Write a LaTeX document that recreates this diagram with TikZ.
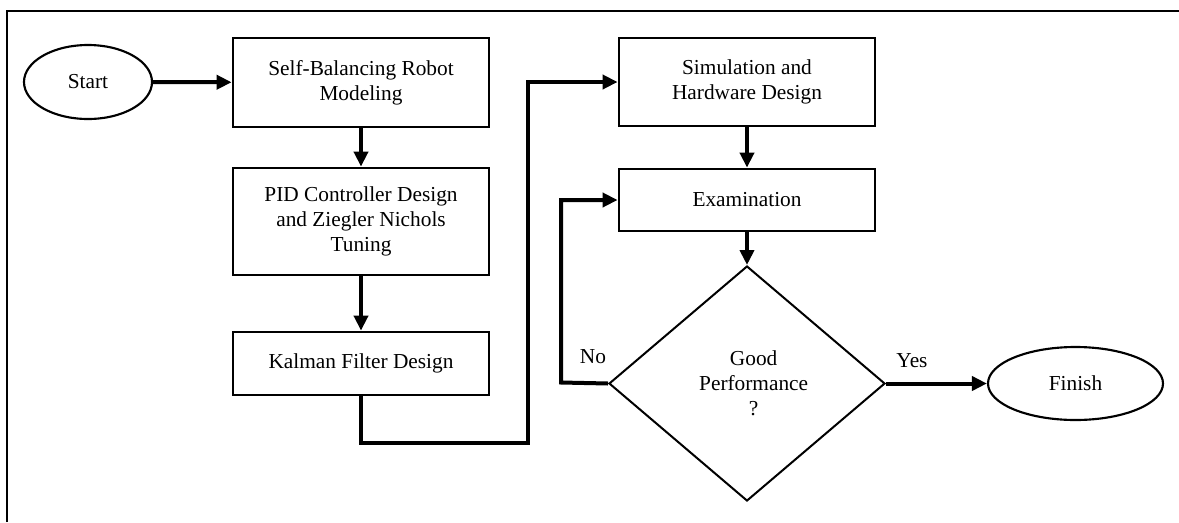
\documentclass[tikz,border=0pt]{standalone}
\usepackage{fontspec}
\setmainfont{Liberation Serif}
\usetikzlibrary{arrows.meta,shapes.geometric}

\tikzset{
  txt/.style={font=\fontsize{16}{18.75}\selectfont, align=center, text=black},
  procbox/.style={txt, draw, line width=2.1pt, inner sep=0pt,
    minimum width=192pt},
  term/.style={txt, draw, ellipse, line width=1.6pt, inner sep=0pt},
  decision/.style={txt, draw, diamond, line width=1.5pt, inner sep=0pt,
    minimum width=207pt, minimum height=176.25pt},
  flow/.style={line width=3pt, -{Triangle[length=11.25pt,width=10.5pt]}},
  plain/.style={line width=3pt},
  lbl/.style={txt}
}

\begin{document}
\begin{tikzpicture}[x=0.75pt,y=-0.75pt]
\useasboundingbox (0,0) rectangle (1179,522);

% outer frame (only top and left edges fall inside the page)
\draw[line width=1.7pt] (7,522) -- (7,11) -- (1179,11);

% terminals
\node[term, minimum width=96pt, minimum height=55.5pt] (start) at (88,82) {Start};
\node[term, minimum width=131.25pt, minimum height=54.75pt] (finish) at (1075.5,383.5) {Finish};

% left column
\node[procbox, minimum height=66.75pt] (model) at (361,82.5)
  {Self-Balancing Robot\\Modeling};
\node[procbox, minimum height=80.25pt] (pid) at (361,221.5)
  {PID Controller Design\\and Ziegler Nichols\\Tuning};
\node[procbox, minimum height=47.25pt] (kalman) at (361,363.5)
  {Kalman Filter Design};

% right column
\node[procbox, minimum height=66pt] (sim) at (747,82)
  {Simulation and\\Hardware Design};
\node[procbox, minimum height=46.5pt] (exam) at (747,200)
  {Examination};
\node[decision] (check) at (747,383.5)
  {\hspace*{10pt}Good\\\hspace*{10pt}Performance\\\hspace*{10pt}?};

% bends of the routed connectors
\coordinate (kbend) at (528,443);
\coordinate (nobend) at (561,382.5);

% connectors
\draw[flow] (start) -- (model);
\draw[flow] (model) -- (pid);
\draw[flow] (pid) -- (kalman);
\draw[flow] (kalman.south) |- (kbend) |- (sim.west);
\draw[flow] (sim) -- (exam);
\draw[flow] (exam) -- (check.north);
\draw[flow] (check.west) -- (nobend) |- (exam.west);
\draw[flow] (check.east) -- (finish.west);

% branch labels
\node[lbl] (nolabel) at (593,357) {No};
\node[lbl] (yeslabel) at (912,361) {Yes};
\end{tikzpicture}
\end{document}
